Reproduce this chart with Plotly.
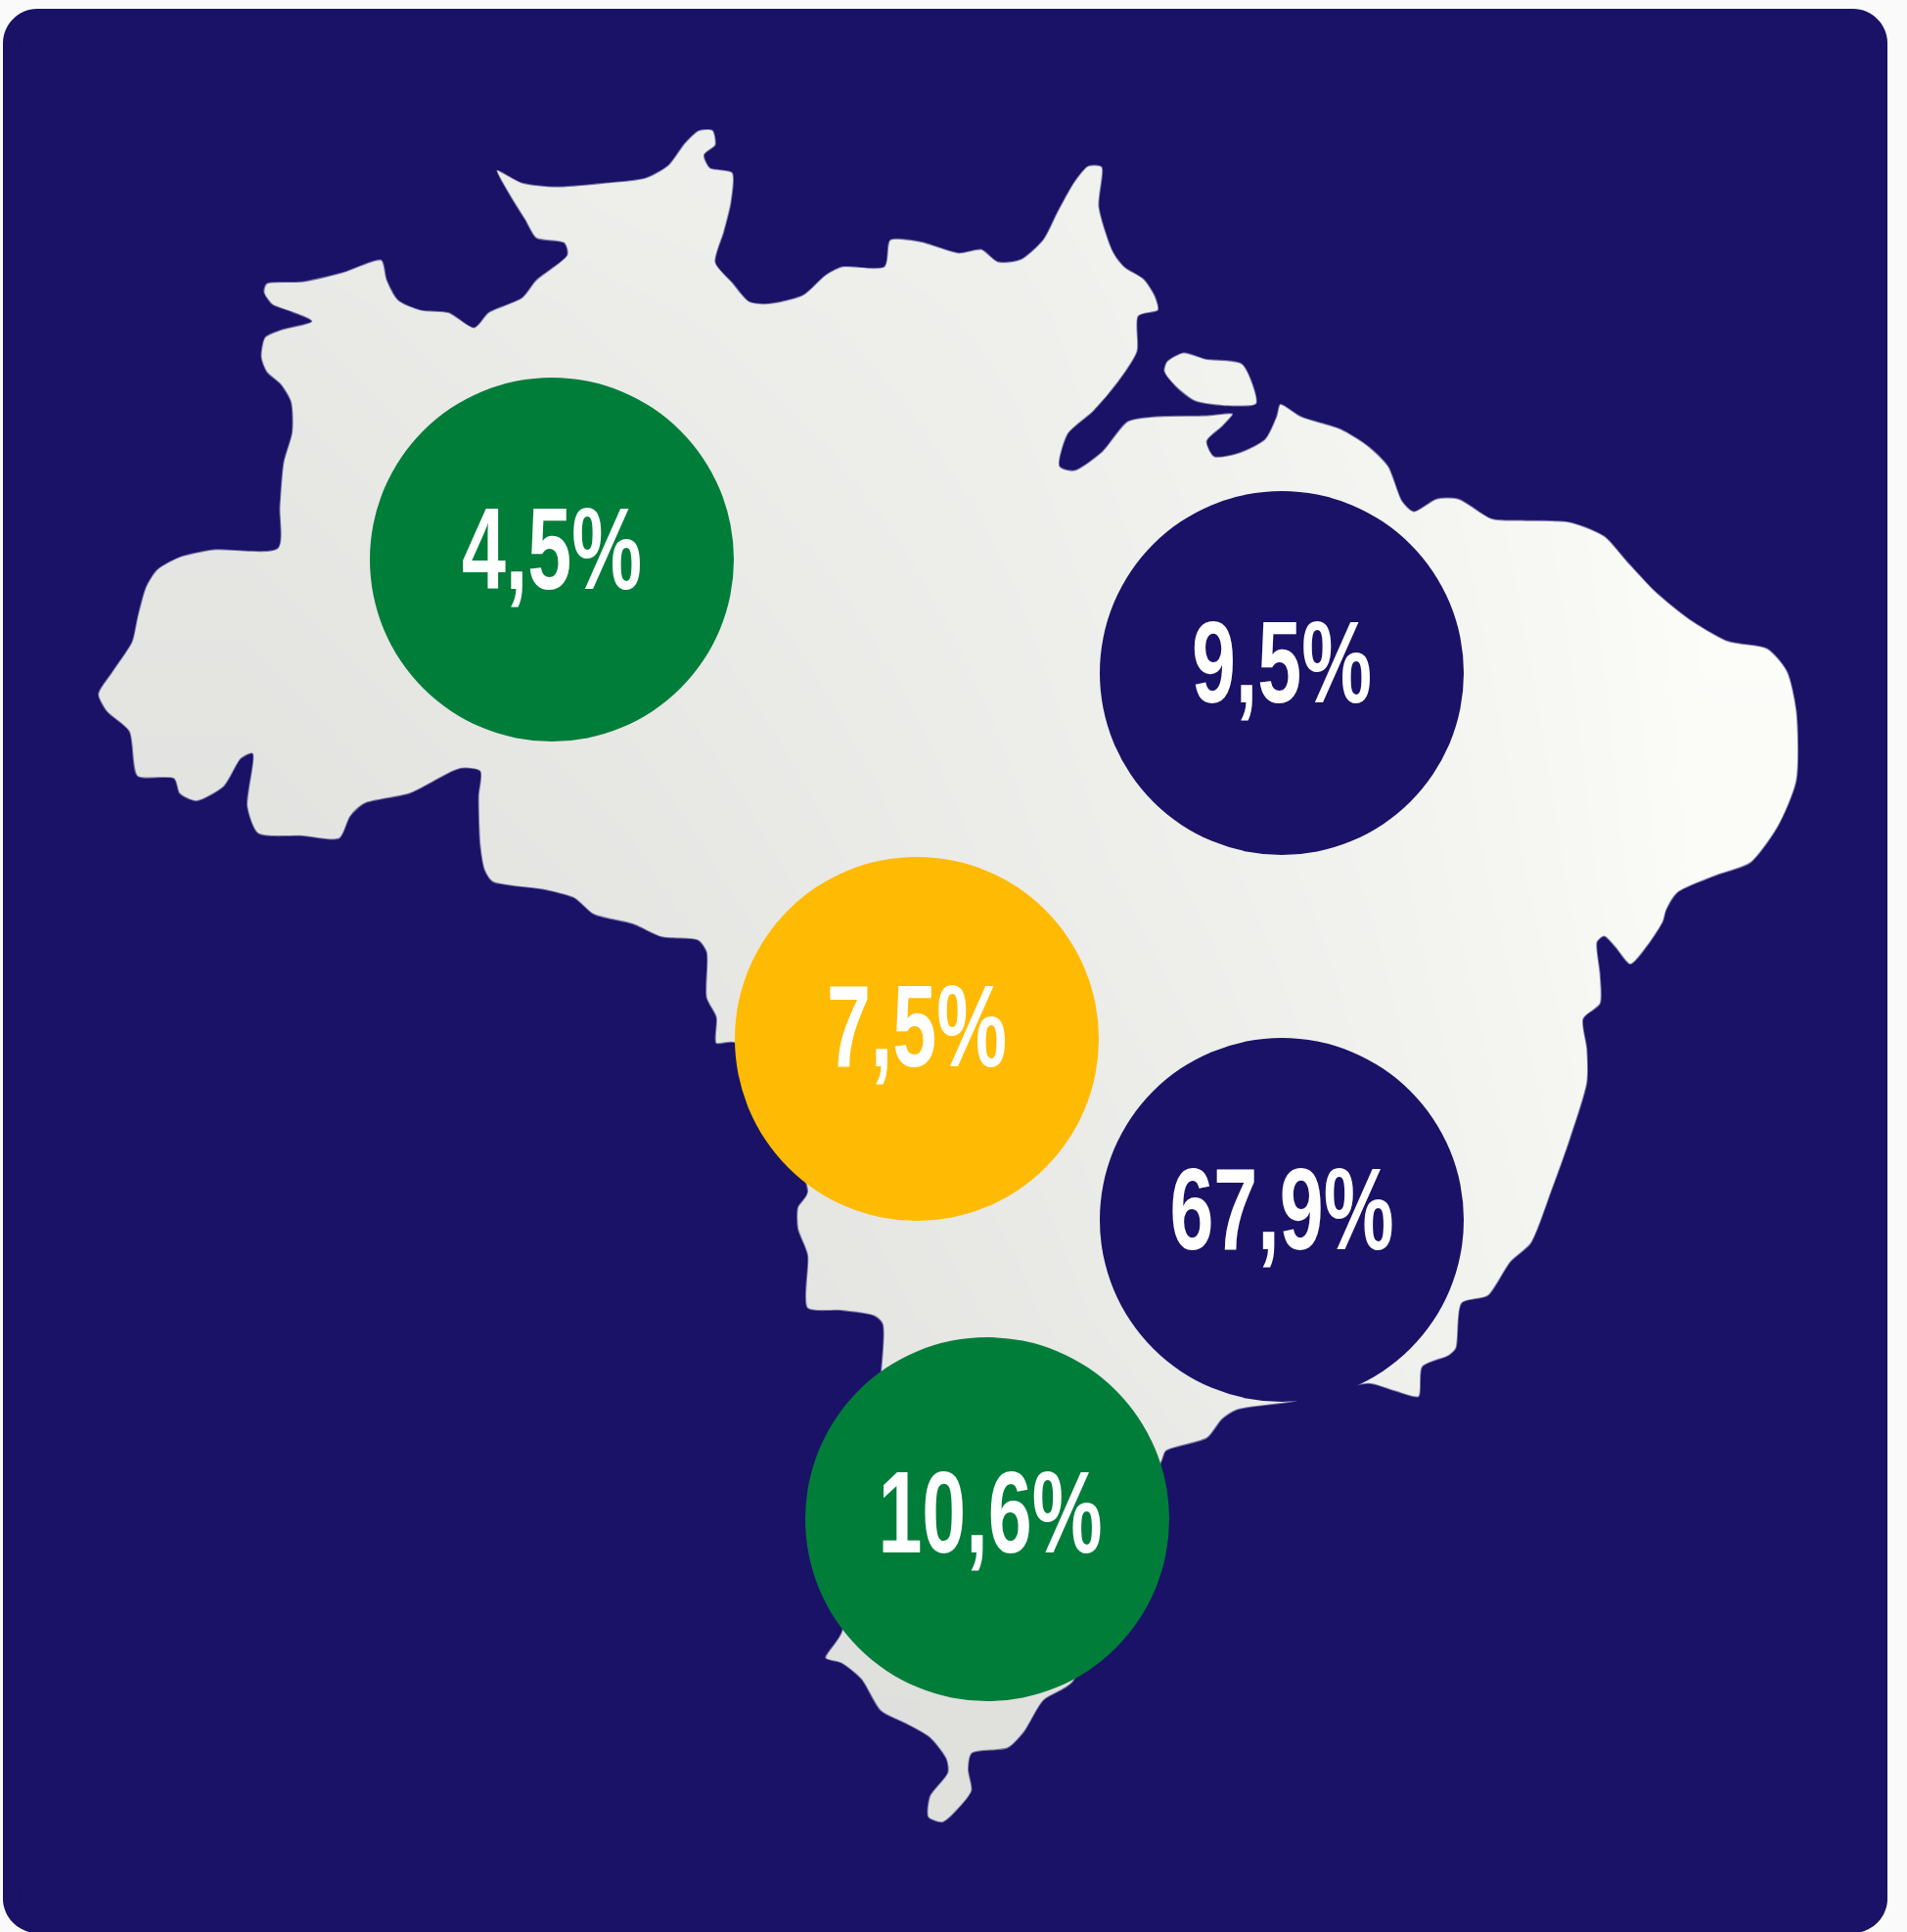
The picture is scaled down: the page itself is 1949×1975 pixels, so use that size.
import plotly.graph_objects as go

# Values and labels
regions = ["Norte", "Nordeste", "Centro-Oeste", "Sudeste", "Sul"]
shares = [4.5, 9.5, 7.5, 67.9, 10.6]
labels = ["4,5%", "9,5%", "7,5%", "67,9%", "10,6%"]
circle_x = [564, 1310, 937, 1310, 1009]
circle_y = [572, 688, 1062, 1247, 1553]
label_x = [564, 1310, 937, 1310, 1012]
label_y = [572, 688, 1060, 1247, 1557]
circle_colors = ["#017d3a", "#1a1267", "#ffba03", "#1a1267", "#017d3a"]

NAVY = "#1a1267"

seg_nw = [(35,1175),(60,1130),(95,1070),(105,1020),(120,960),(140,925),(180,900),(240,885),(355,882),(358,800),(365,710),(380,650),(378,590),(360,555),(335,530),(325,500),(332,460),(360,445),(415,428),(380,410),(345,395),(330,370),(335,352),(400,348),(470,330),(540,305),(550,345),(570,385),(610,405),(660,410),(705,440),(730,410),(790,380),(815,345),(870,295),(865,272),(815,262),(795,225),(770,180),(745,125),(790,150),(850,158),(940,150),(1010,140),(1050,115),(1080,70),(1105,45),(1130,45),(1135,75),(1115,95),(1125,120),(1165,130),(1163,190),(1150,250),(1135,310),(1165,350),(1195,388),(1230,392),(1290,375),(1330,335),(1360,318),(1435,318),(1445,265),(1500,268)]
seg_ne = [(0,212),(40,205),(70,230),(110,225),(150,185),(175,130),(205,70),(230,38),(255,40),(250,120),(275,210),(295,240),(330,265),(350,300),(355,328),(320,340),(318,410),(285,470),(240,530),(195,575),(180,640),(205,648),(255,610),(300,550),(350,540),(440,538),(488,535),(470,560),(442,590),(455,620),(500,612),(545,585),(565,540),(572,515),(610,540),(680,565),(730,600),(765,640),(790,710),(810,730),(850,705),(890,705),(950,745),(1010,748),(1090,752),(1150,780),(1190,830),(1240,890),(1300,945),(1370,990),(1440,1005),(1475,1050),(1492,1130),(1492,1270),(1460,1360),(1410,1435),(1350,1460),(1280,1495),(1260,1530)]
seg_se = [(1568,110),(1530,170),(1480,225),(1440,180),(1410,150),(1392,165),(1400,250),(1400,330),(1355,370),(1365,450),(1365,540),(1320,690),(1270,830),(1215,970),(1160,1020),(1100,1110),(1030,1130),(1015,1250),(995,1270),(925,1300),(915,1380),(850,1365),(780,1345),(570,1395),(430,1415),(390,1440),(350,1490),(240,1525)]
seg_s = [(1465,815),(1190,1235),(1100,1270),(1040,1330),(990,1360),(880,1370),(870,1400),(880,1440),(830,1480),(790,1500),(745,1490),(750,1450),(805,1405),(800,1380),(750,1340),(680,1315),(600,1290),(540,1230),(480,1200),(430,1190),(480,1140),(600,650),(605,560),(580,545),(480,535),(375,530),(375,430),(345,380),(345,340),(375,310)]
seg_sw = [(815,560),(755,560),(755,480),(725,420),(725,280),(700,245),(590,235),(500,195),(380,165),(320,115),(230,90),(70,65),(45,30)]
seg_w = [(715,1480),(712,1380),(715,1330),(680,1325),(590,1375),(510,1395),(485,1420),(465,1465),(400,1460),(320,1455),(300,1400),(310,1295),(290,1305),(260,1360),(210,1390),(180,1375),(170,1345),(105,1340),(90,1250),(50,1210)]
seg_island = [(370,430),(400,412),(440,425),(505,435),(530,515),(480,520),(420,510),(385,480),(365,450),(370,430)]

def crop(points, left, top, sx, sy):
    return [(left + a / sx, top + b / sy) for a, b in points]

s3 = (80, 110, 1568 / 900, 1568 / 800)
s4 = (980, 150, 1568 / 900, 1568 / 800)
s5 = (1100, 900, 1568 / 600, 1568 / 600)
s6 = (700, 1050, 3, 1568 / 850)
s7 = (480, 880, 3, 3)
outline = (crop(seg_nw, *s3) + crop(seg_ne, *s4) + crop(seg_se, *s5) + crop(seg_s, *s6)
           + crop(seg_sw, *s7) + crop(seg_w, *s3))
outline.append(outline[0])
island = crop(seg_island, *s4)

# Silver shading of the map (grey level per cell)
shade_x = [60, 440, 840, 1240, 1600, 1880]
shade_y = [80, 320, 700, 1100, 1600, 1880]
shade_z = [
    [234, 238, 240, 246, 252],
    [230, 234, 238, 244, 252],
    [226, 230, 236, 242, 251],
    [224, 226, 232, 240, 248],
    [222, 222, 224, 232, 244],
]

fig = go.Figure()
fig.add_trace(go.Heatmap(
    x=shade_x, y=shade_y, z=shade_z, zmin=0, zmax=255, zsmooth="best", showscale=False, hoverinfo="skip",
    colorscale=[[0, "#000000"], [1, "#fffffc"]],
))
# Navy mask with the map as a hole
rect = [(20, 50), (20, 30), (40, 30), (1900, 30), (1920, 30), (1920, 50), (1920, 1930), (1920, 1950),
        (1900, 1950), (40, 1950), (20, 1950), (20, 1930), (20, 50)]
rect = rect[::-1]
mask_x = [p[0] for p in rect] + [None] + [p[0] for p in outline] + [None] + [p[0] for p in island]
mask_y = [p[1] for p in rect] + [None] + [p[1] for p in outline] + [None] + [p[1] for p in island]
fig.add_trace(go.Scatter(
    x=mask_x, y=mask_y, mode="lines", fill="toself", fillcolor=NAVY, hoverinfo="skip",
    line=dict(color="rgba(26,18,103,0.55)", width=2, shape="spline", smoothing=0.7),
))
fig.add_trace(go.Scatter(
    x=circle_x, y=circle_y, mode="markers", hoverinfo="skip",
    marker=dict(size=372, color=circle_colors, opacity=1, line=dict(width=0)),
))
fig.add_trace(go.Scatter(
    x=label_x, y=label_y, mode="text", text=labels, textposition="middle center", hoverinfo="skip",
    textfont=dict(family="Liberation Sans", size=118, color="#ffffff", weight="bold"),
))

panel = ("M 38,9 L 1894,9 C 1913,9 1929,25 1929,44 L 1929,1941 C 1929,1960 1913,1976 1894,1976 "
         "L 38,1976 C 19,1976 3,1960 3,1941 L 3,44 C 3,25 19,9 38,9 Z")
fig.update_layout(
    width=1949, height=1975, margin=dict(l=0, r=0, t=0, b=0, pad=0),
    paper_bgcolor="#fafafa", plot_bgcolor="rgba(0,0,0,0)", showlegend=False,
    xaxis=dict(range=[0, 1949], visible=False, fixedrange=True),
    yaxis=dict(range=[1975, 0], visible=False, fixedrange=True),
    shapes=[dict(type="path", path=panel, xref="x", yref="y", fillcolor=NAVY, line=dict(width=0), layer="below")],
)

SQUEEZE = 0.685
post = """
document.body.style.margin = '0';
document.body.style.overflow = 'hidden';
document.querySelectorAll('.textpoint text').forEach(function (t) {
  t.setAttribute('textLength', t.getComputedTextLength() * %s);
  t.setAttribute('lengthAdjust', 'spacingAndGlyphs');
});
""" % SQUEEZE
fig.write_html("out.html", post_script=post, config={"displayModeBar": False})
